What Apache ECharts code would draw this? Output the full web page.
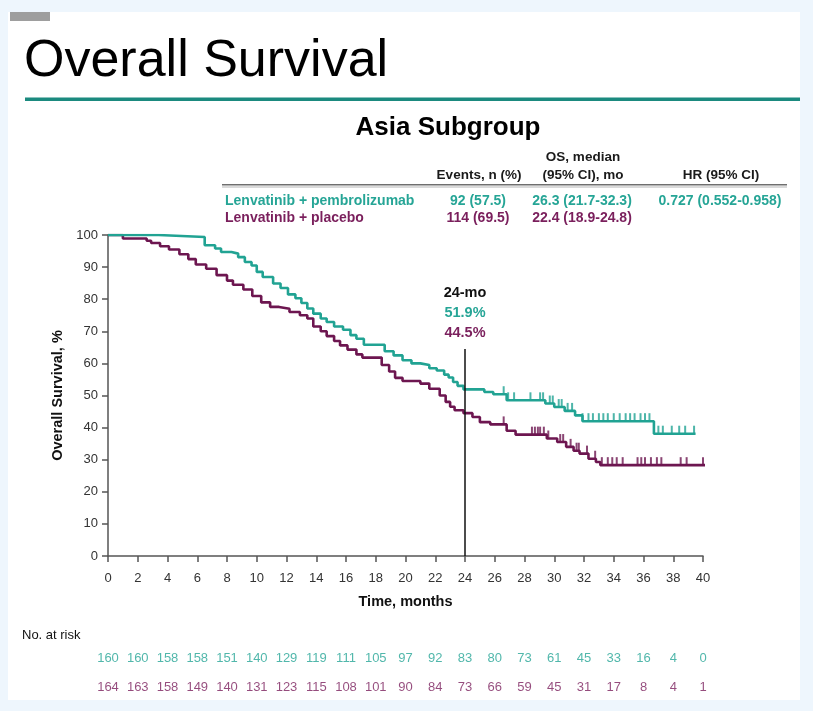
<!DOCTYPE html>
<html><head><meta charset="utf-8">
<script src="https://cdn.jsdelivr.net/npm/echarts@6/dist/echarts.min.js"></script>
<style>html,body{margin:0;padding:0;background:#eef6fd}#c{width:813px;height:711px}</style>
</head><body><div id="c"></div>
<script>
// ---- data ----
const pembroTime = [0,3.4,6.5,7.2,7.6,8.3,8.75,9.2,9.65,10.0,10.4,11.1,11.6,12.1,12.6,13.0,13.4,13.8,14.3,14.7,15.2,15.8,16.3,16.7,17.2,18.6,19.2,19.8,20.4,21.0,21.6,22.1,22.6,22.9,23.2,23.5,23.9,25.3,25.9,26.8,29.4,30.0,30.7,31.4,31.9,36.7,39.5];
const pembroSurv = [100,99.4,96.8,95.8,94.7,94.2,93.1,91.6,90.5,88.5,86.9,84.9,83.5,81.5,80.3,78.8,77.1,75.5,74.0,72.9,71.5,70.5,68.8,67.7,65.8,63.8,62.5,61.0,60.0,59.5,58.5,57.8,56.5,55.6,54.2,53.0,51.9,51.1,50.4,48.5,47.5,46.4,45.2,43.8,42.0,38.1,38.1];
const placeboTime = [0,1.0,2.6,2.9,3.5,4.1,4.8,5.4,5.9,6.6,7.3,8.0,8.4,9.1,9.7,10.3,10.9,11.5,12.2,12.9,13.4,13.8,14.3,14.7,15.2,15.6,16.1,16.7,17.1,18.4,18.9,19.3,19.8,21.0,21.6,22.3,22.7,23.0,23.3,23.9,24.5,25.0,25.7,26.8,27.4,29.5,30.2,30.8,31.3,31.7,32.3,32.8,33.1,40.2];
const placeboSurv = [100,98.9,98.2,97.5,96.5,95.5,94.0,92.5,90.8,89.5,87.5,85.8,84.5,83.0,81.0,79.0,77.6,77.0,76.0,75.0,74.0,71.5,70.0,68.5,67.0,65.6,64.3,62.8,61.8,59.5,57.5,55.5,54.5,53.7,52.1,50.0,48.0,46.5,45.4,44.5,43.3,41.7,41.0,39.0,37.8,36.6,35.5,34.0,32.8,31.9,30.3,29.3,28.3,28.3];
const pembroCensor = [26.6,26.9,27.3,28.4,29.05,29.25,29.7,29.9,30.3,30.5,30.9,31.2,31.9,32.3,32.6,33.0,33.3,33.6,34.0,34.4,34.8,35.1,35.4,35.8,36.1,36.4,37.0,37.3,37.9,38.4,38.8,39.4];
const placeboCensor = [26.6,28.5,28.7,28.9,29.05,29.3,29.6,30.4,30.6,31.1,31.5,31.65,32.2,32.75,33.2,33.6,33.9,34.2,34.6,35.6,35.85,36.1,36.5,36.9,37.2,38.5,38.9,40.0];
const riskTimes = [0,2,4,6,8,10,12,14,16,18,20,22,24,26,28,30,32,34,36,38,40];
const riskPembro = [160,160,158,158,151,140,129,119,111,105,97,92,83,80,73,61,45,33,16,4,0];
const riskPlacebo = [164,163,158,149,140,131,123,115,108,101,90,84,73,66,59,45,31,17,8,4,1];
const landmark = {time: 24, top: 64.5, label: '24-mo', pembro: '51.9%', placebo: '44.5%'};
const tableHead = ['Events, n (%)', 'OS, median', '(95% CI), mo', 'HR (95% CI)'];
const rowPembro = ['Lenvatinib + pembrolizumab', '92 (57.5)', '26.3 (21.7-32.3)', '0.727 (0.552-0.958)'];
const rowPlacebo = ['Lenvatinib + placebo', '114 (69.5)', '22.4 (18.9-24.8)', ''];

// ---- styles ----
const TEAL = '#21a393', PURPLE = '#6d1650', TEALT = '#26a596', PURPLET = '#7a1f5c';
const FF = '"Liberation Sans", Arial, sans-serif';

function pairs(t, s) { return t.map((v, i) => [v, s[i]]); }
function levelAt(t, s, x) { let v = s[0]; for (let i = 0; i < t.length; i++) { if (t[i] <= x) v = s[i]; } return v; }

const chart = echarts.init(document.getElementById('c'));
function txt(text, x, y, font, fill, align) {
  return {type: 'text', style: {text, x, y, font, fill, align: align || 'left', verticalAlign: 'middle'}, z: 10};
}
const graphics = [
  {type: 'rect', shape: {x: 8, y: 12, width: 792, height: 688}, style: {fill: '#ffffff'}, z: 0},
  {type: 'rect', shape: {x: 10, y: 12, width: 40, height: 9}, style: {fill: '#9e9e9e'}, z: 1},
  txt('Overall Survival', 24, 62, '52px ' + FF, '#000'),
  {type: 'rect', shape: {x: 25, y: 97.5, width: 775, height: 3.5}, style: {fill: '#1b8a7f'}, z: 1},
  txt('Asia Subgroup', 448, 128, 'bold 26px ' + FF, '#000', 'center'),
  txt(tableHead[0], 479, 175, 'bold 13.5px ' + FF, '#1a1a1a', 'center'),
  txt(tableHead[1], 583, 157, 'bold 13.5px ' + FF, '#1a1a1a', 'center'),
  txt(tableHead[2], 583, 175, 'bold 13.5px ' + FF, '#1a1a1a', 'center'),
  txt(tableHead[3], 721, 175, 'bold 13.5px ' + FF, '#1a1a1a', 'center'),
  {type: 'rect', shape: {x: 222, y: 184, width: 565, height: 1.6}, style: {fill: '#6f6f6f'}, z: 1},
  {type: 'rect', shape: {x: 222, y: 186.5, width: 565, height: 1}, style: {fill: '#b5b5b5'}, z: 1},
  txt(rowPembro[0], 225, 201, 'bold 14px ' + FF, TEALT),
  txt(rowPembro[1], 478, 201, 'bold 14px ' + FF, TEALT, 'center'),
  txt(rowPembro[2], 582, 201, 'bold 14px ' + FF, TEALT, 'center'),
  txt(rowPembro[3], 720, 201, 'bold 14px ' + FF, TEALT, 'center'),
  txt(rowPlacebo[0], 225, 218, 'bold 14px ' + FF, PURPLET),
  txt(rowPlacebo[1], 478, 218, 'bold 14px ' + FF, PURPLET, 'center'),
  txt(rowPlacebo[2], 582, 218, 'bold 14px ' + FF, PURPLET, 'center'),
  txt('No. at risk', 22, 635, '13px ' + FF, '#111')
];

function censorSeries(times, t, s, color) {
  return {
    type: 'scatter', xAxisIndex: 0, yAxisIndex: 0,
    data: times.map(x => [x, levelAt(t, s, x)]),
    symbol: 'rect', symbolSize: [2, 8], symbolOffset: [0, -4],
    itemStyle: {color}, z: 4, silent: true
  };
}
function riskSeries(idx, vals, color) {
  return {
    type: 'scatter', xAxisIndex: idx, yAxisIndex: idx,
    data: riskTimes.map((x, i) => [x, 0.5, vals[i]]),
    symbolSize: 0,
    label: {show: true, position: 'inside', formatter: p => String(p.data[2]), color, fontFamily: FF, fontSize: 13},
    silent: true
  };
}
const hiddenAxis = (i, min, max) => ({gridIndex: i, min, max, show: false});

chart.setOption({
  backgroundColor: '#eef6fd',
  animation: false,
  graphic: graphics,
  grid: [
    {left: 108, right: 110, top: 235, bottom: 155},
    {left: 108, right: 110, top: 650, height: 16},
    {left: 108, right: 110, top: 679, height: 16}
  ],
  xAxis: [
    {gridIndex: 0, type: 'value', min: 0, max: 40, interval: 2,
     name: 'Time, months', nameLocation: 'middle', nameGap: 38,
     nameTextStyle: {fontFamily: FF, fontWeight: 'bold', fontSize: 14.5, color: '#111'},
     axisLine: {show: true, onZero: false, lineStyle: {color: '#555', width: 1.5}},
     axisTick: {show: true, length: 6, lineStyle: {color: '#555', width: 1.5}},
     axisLabel: {fontFamily: FF, fontSize: 13, color: '#333', margin: 16},
     splitLine: {show: false}},
    Object.assign({type: 'value', interval: 2}, hiddenAxis(1, 0, 40)),
    Object.assign({type: 'value', interval: 2}, hiddenAxis(2, 0, 40))
  ],
  yAxis: [
    {gridIndex: 0, type: 'value', min: 0, max: 100, interval: 10,
     name: 'Overall Survival, %', nameLocation: 'middle', nameGap: 43,
     nameTextStyle: {fontFamily: FF, fontWeight: 'bold', fontSize: 14.5, color: '#111'},
     axisLine: {show: true, lineStyle: {color: '#555', width: 1.5}},
     axisTick: {show: true, length: 6, lineStyle: {color: '#555', width: 1.5}},
     axisLabel: {fontFamily: FF, fontSize: 13, color: '#333', margin: 10},
     splitLine: {show: false}},
    Object.assign({type: 'value'}, hiddenAxis(1, 0, 1)),
    Object.assign({type: 'value'}, hiddenAxis(2, 0, 1))
  ],
  series: [
    {type: 'line', step: 'end', data: pairs(placeboTime, placeboSurv), showSymbol: false,
     lineStyle: {color: PURPLE, width: 2.6}, z: 3, silent: true},
    {type: 'line', step: 'end', data: pairs(pembroTime, pembroSurv), showSymbol: false,
     lineStyle: {color: TEAL, width: 2.6}, z: 3, silent: true},
    censorSeries(placeboCensor, placeboTime, placeboSurv, PURPLE),
    censorSeries(pembroCensor, pembroTime, pembroSurv, TEAL),
    {type: 'line', data: [[landmark.time, 0], [landmark.time, landmark.top]], showSymbol: false,
     lineStyle: {color: '#111', width: 1.5}, z: 5, silent: true,
     markPoint: {symbol: 'circle', symbolSize: 0, silent: true,
       data: [
         {coord: [landmark.time, landmark.top], value: landmark.label, label: {show: true, offset: [0, -56], formatter: landmark.label, fontFamily: FF, fontWeight: 'bold', fontSize: 14.5, color: '#111'}},
         {coord: [landmark.time, landmark.top], value: landmark.pembro, label: {show: true, offset: [0, -36], formatter: landmark.pembro, fontFamily: FF, fontWeight: 'bold', fontSize: 14.5, color: TEALT}},
         {coord: [landmark.time, landmark.top], value: landmark.placebo, label: {show: true, offset: [0, -16], formatter: landmark.placebo, fontFamily: FF, fontWeight: 'bold', fontSize: 14.5, color: PURPLET}}
       ]}},
    riskSeries(1, riskPembro, TEALT),
    riskSeries(2, riskPlacebo, PURPLET)
  ]
});
</script>
</body></html>
